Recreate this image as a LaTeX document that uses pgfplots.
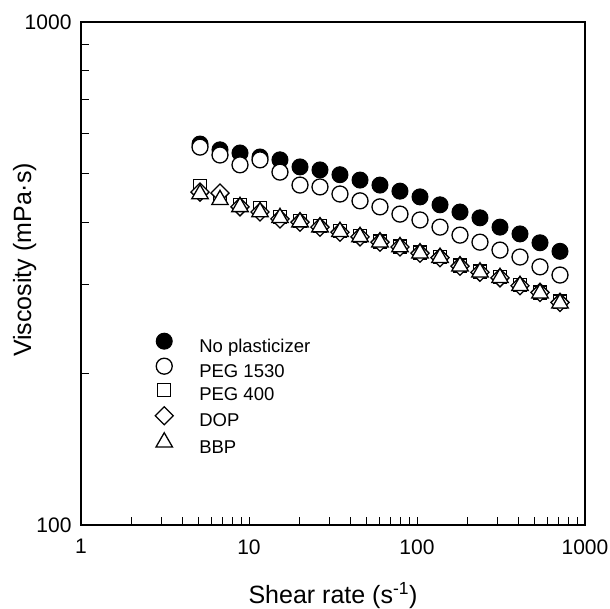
\documentclass[border=0pt]{standalone}
\usepackage{pgfplots}
\pgfplotsset{compat=1.18}
\usepackage{pgfplotstable}
\usepackage{fontspec}
\setmainfont{Liberation Sans}

\pgfplotstableread{
x      np   pega  pegb  dop  bbp
5.11   572  564   472   459  455
6.72   557  544   447   457  443
8.84   549  520   433   429  429
11.63  539  532   427   419  419
15.29  532  503   410   406  408
20.12  515  474   402   400  400
26.46  508  470   393   391  391
34.8   497  455   384   382  383
45.8   485  441   375   374  374
60.2   474  429   366   365  365
79.2   461  415   358   357  357
104.2  449  404   348   347  347
137.1  433  391   341   340  340
180.3  419  377   328   327  327
237.1  408  365   319   318  318
311.9  391  352   311   310  310
410.3  379  341   300   299  299
539.7  364  326   290   290  289
709.9  350  314   278   277  276
}\data

\begin{document}
\begin{tikzpicture}
\useasboundingbox (-81pt,-84pt) rectangle (529pt,525pt);
\begin{axis}[
  at={(0pt,0pt)}, anchor=south west,
  scale only axis, width=504pt, height=503pt,
  xmode=log, ymode=log,
  xmin=1, xmax=1000, ymin=100, ymax=1000,
  xtick={1,10,100,1000}, xticklabels={1,10,100,1000},
  ytick={100,1000}, yticklabels={100,1000},
  minor xtick={2,3,4,5,6,7,8,9,20,30,40,50,60,70,80,90,200,300,400,500,600,700,800,900},
  minor ytick={200,300,400,500,600,700,800,900},
  xtick pos=left, ytick pos=left,
  tick align=inside,
  major tick length=8pt, minor tick length=8pt,
  tick style={black, line width=1pt},
  axis line style={line width=2pt},
  tick label style={font=\fontsize{21}{25}\selectfont},
  xticklabel style={yshift=-11pt},
  yticklabel style={xshift=-6pt},
  xlabel={Shear rate (s\textsuperscript{-1})},
  ylabel={Viscosity (mPa·s)},
  label style={font=\fontsize{25}{30}\selectfont},
  xlabel style={at={(axis description cs:0.5,-0.157)}, anchor=base},
  ylabel style={at={(axis description cs:-0.0992,0.527)}, anchor=base},
  legend style={at={(0.1468,0.3817)}, anchor=north west, draw=none, fill=none,
    inner sep=0pt, row sep=1pt, column sep=26pt,
    font=\fontsize{18.5}{22}\selectfont,
    nodes={inner sep=0pt, text height=16pt, text depth=5pt}},
  legend cell align=left,
  legend image code/.code={\draw[mark repeat=2,mark phase=2,#1] plot coordinates {(0pt,5.5pt) (11pt,5.5pt) (22pt,5.5pt)};},
]
\addplot[only marks, mark=*, mark size=8pt, mark options={draw=black, fill=black, line width=1pt}] table[x=x,y=np]{\data};
\addlegendentry{No plasticizer}
\addplot[only marks, mark=*, mark size=8pt, mark options={draw=black, fill=white, line width=1.3pt}] table[x=x,y=pega]{\data};
\addlegendentry{PEG 1530}
\addplot[only marks, mark=square*, mark size=6.5pt, mark options={draw=black, fill=white, line width=1.3pt}] table[x=x,y=pegb]{\data};
\addlegendentry{PEG 400}
\addplot[only marks, mark=square*, mark size=6.4pt, mark options={draw=black, fill=white, line width=1.3pt, rotate=45}] table[x=x,y=dop]{\data};
\addlegendentry{DOP}
\addplot[only marks, mark=triangle*, mark size=9.5pt, mark options={draw=black, fill=white, line width=1.3pt}] table[x=x,y=bbp]{\data};
\addlegendentry{BBP}
\end{axis}
\end{tikzpicture}
\end{document}
